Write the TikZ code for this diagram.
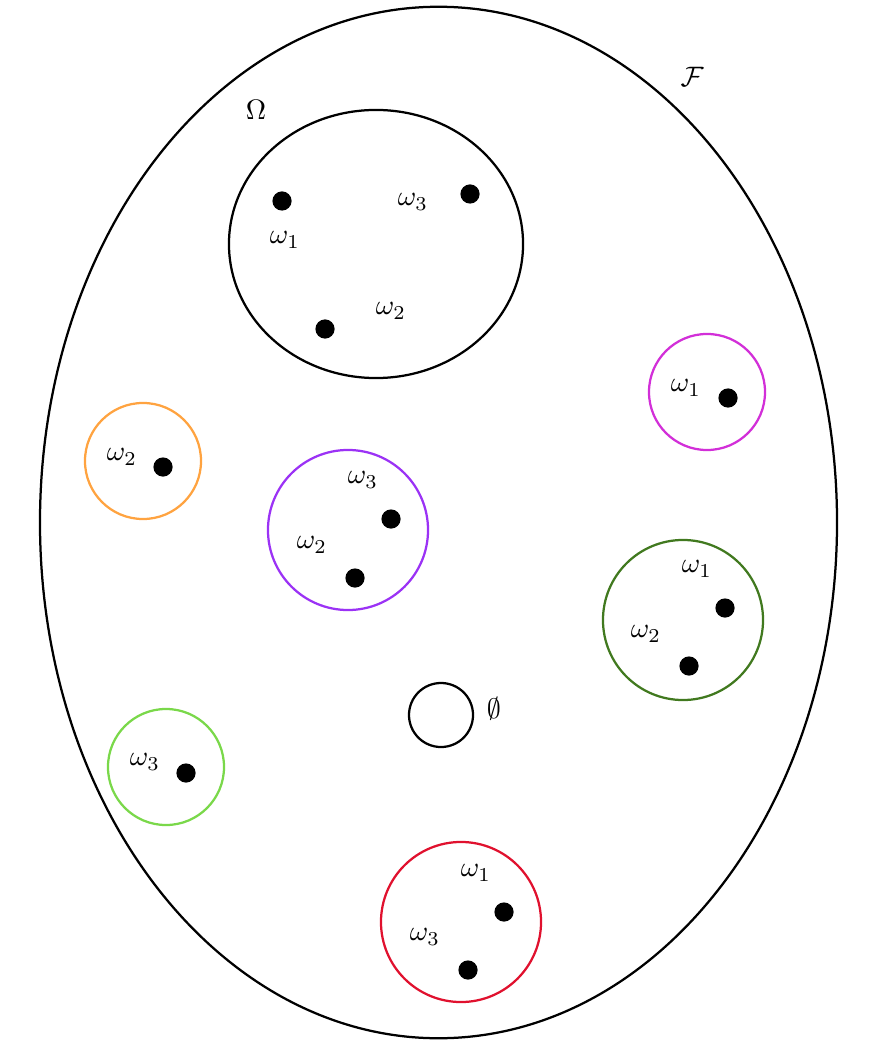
\documentclass[tikz,border=0pt]{standalone}
\usepackage{amsmath,amssymb}
\usepackage{xcolor}
\definecolor{sigmag}{HTML}{D22FD8}
\definecolor{sigorange}{HTML}{FFA340}
\definecolor{sigpurple}{HTML}{9B32F5}
\definecolor{sigdkgreen}{HTML}{41791F}
\definecolor{sigltgreen}{HTML}{7AD84A}
\definecolor{sigred}{HTML}{E0112E}
\usepackage{tikz}
\usetikzlibrary{shapes.geometric}
\tikzset{
  sigset/.style={draw=#1,circle,thick,inner sep=0pt,outer sep=0pt},
  sigsmall/.style={sigset=#1,minimum size=1.45cm},
  sigbig/.style={sigset=#1,minimum size=2cm},
  sigdot/.style={circle,fill=black,inner sep=0pt,minimum size=0.24cm},
  siglabel/.style={inner sep=0pt},
}
\begin{document}
\begin{tikzpicture}[x=0.0125cm,y=-0.0125cm]
\useasboundingbox (0,0) rectangle (878,1052);
 % the sigma-algebra and the sample space
\node[draw,thick,ellipse,inner sep=0pt,minimum width=9.96cm,minimum height=12.89cm] (F) at (438.5,522.5) {};
\node[siglabel] (Flab) at (692,77) {$\mathcal{F}$};
\node[draw,thick,ellipse,inner sep=0pt,minimum width=3.675cm,minimum height=3.35cm] (om) at (376,244) {};
\node[siglabel] (omlab) at (256,110) {$\Omega$};
\node[sigdot] (om1) at (282,201) {};
\node[siglabel] (om1lab) at (285,240) {$\omega_1$};
\node[sigdot] (om3) at (470,194) {};
\node[siglabel] (om3lab) at (413,202) {$\omega_3$};
\node[sigdot] (om2) at (325,329) {};
\node[siglabel] (om2lab) at (391,311) {$\omega_2$};
 % singletons
\node[sigsmall=sigmag] (s1) at (707,392) {};
\node[siglabel] (s1lab) at (686,388) {$\omega_1$};
\node[sigdot] (s1d) at (728,398) {};
\node[sigsmall=sigorange] (s2) at (143,461) {};
\node[siglabel] (s2lab) at (122,457) {$\omega_2$};
\node[sigdot] (s2d) at (163,467) {};
\node[sigsmall=sigltgreen] (s3) at (166,767) {};
\node[siglabel] (s3lab) at (145,762) {$\omega_3$};
\node[sigdot] (s3d) at (186,773) {};
 % pairs
\node[sigbig=sigpurple] (p23) at (348,530) {};
\node[siglabel] (p23a) at (363,480) {$\omega_3$};
\node[sigdot] (p23b) at (391,519) {};
\node[siglabel] (p23c) at (312,545) {$\omega_2$};
\node[sigdot] (p23d) at (355,578) {};
\node[sigbig=sigdkgreen] (p12) at (683,620) {};
\node[siglabel] (p12a) at (697,569) {$\omega_1$};
\node[sigdot] (p12b) at (725,608) {};
\node[siglabel] (p12c) at (646,634) {$\omega_2$};
\node[sigdot] (p12d) at (689,666) {};
\node[sigbig=sigred] (p13) at (461,922) {};
\node[siglabel] (p13a) at (476,873) {$\omega_1$};
\node[sigdot] (p13b) at (504,912) {};
\node[siglabel] (p13c) at (425,937) {$\omega_3$};
\node[sigdot] (p13d) at (468,970) {};
 % empty set
\node[sigset=black,minimum size=0.8cm] (e) at (441,715) {};
\node[siglabel] (elab) at (494,709) {$\emptyset$};
\end{tikzpicture}
\end{document}
